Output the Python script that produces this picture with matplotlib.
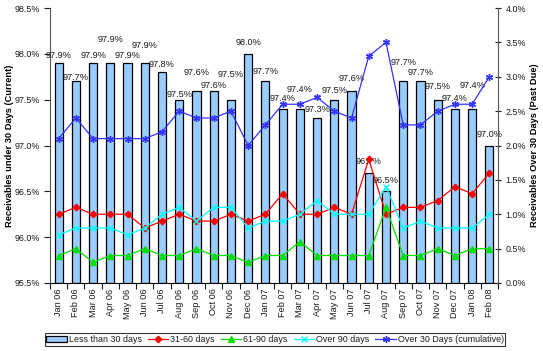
import matplotlib.pyplot as plt
from matplotlib.patches import Patch
from matplotlib.lines import Line2D

months = ["Jan 06", "Feb 06", "Mar 06", "Apr 06", "May 06", "Jun 06", "Jul 06", "Aug 06",
          "Sep 06", "Oct 06", "Nov 06", "Dec 06", "Jan 07", "Feb 07", "Mar 07", "Apr 07",
          "May 07", "Jun 07", "Jul 07", "Aug 07", "Sep 07", "Oct 07", "Nov 07", "Dec 07",
          "Jan 08", "Feb 08"]

# % current (left axis)
under_30 = [97.9, 97.7, 97.9, 97.9, 97.9, 97.9, 97.8, 97.5, 97.6, 97.6, 97.5, 98.0, 97.7,
            97.4, 97.4, 97.3, 97.5, 97.6, 96.7, 96.5, 97.7, 97.7, 97.5, 97.4, 97.4, 97.0]

# % past due (right axis)
d31_60 = [1.0, 1.1, 1.0, 1.0, 1.0, 0.8, 0.9, 1.0, 0.9, 0.9, 1.0, 0.9, 1.0,
          1.3, 1.0, 1.0, 1.1, 1.0, 1.8, 1.0, 1.1, 1.1, 1.2, 1.4, 1.3, 1.6]
d61_90 = [0.4, 0.5, 0.3, 0.4, 0.4, 0.5, 0.4, 0.4, 0.5, 0.4, 0.4, 0.3, 0.4,
          0.4, 0.6, 0.4, 0.4, 0.4, 0.4, 1.1, 0.4, 0.4, 0.5, 0.4, 0.5, 0.5]
over_90 = [0.7, 0.8, 0.8, 0.8, 0.7, 0.8, 1.0, 1.1, 0.9, 1.1, 1.1, 0.8, 0.9,
           0.9, 1.0, 1.2, 1.0, 1.0, 1.0, 1.4, 0.8, 0.9, 0.8, 0.8, 0.8, 1.0]
over_30 = [2.1, 2.4, 2.1, 2.1, 2.1, 2.1, 2.2, 2.5, 2.4, 2.4, 2.5, 2.0, 2.3,
           2.6, 2.6, 2.7, 2.5, 2.4, 3.3, 3.5, 2.3, 2.3, 2.5, 2.6, 2.6, 3.0]

# excel staggers the bar labels, offset above bar top in pixels
label_lift = [8, 4, 8, 24, 8, 18, 8, 5, 18, 5, 25, 11, 10,
              10, 19, 8, 9, 12, 12, 11, 19, 9, 13, 10, 23, 11]

fs = 6.4
plt.rcParams.update({
    "font.family": ["Liberation Sans", "DejaVu Sans"],
    "font.size": fs,
    "text.color": "#1a1a1a",
    "xtick.color": "#1a1a1a",
    "ytick.color": "#1a1a1a",
})

fig = plt.figure(figsize=(5.43, 3.51), dpi=100)
ax = fig.add_axes([50 / 543, 1 - 283 / 351, 448 / 543, 275 / 351])
ax2 = ax.twinx()

x = list(range(len(months)))
bar_color = "#99CCFF"
ax.bar(x, [v - 95.5 for v in under_30], bottom=95.5, width=0.47,
       color=bar_color, edgecolor="black", linewidth=0.9, zorder=2)

for i, v in enumerate(under_30):
    ax.annotate(f"{v:.1f}%", xy=(i, v), xytext=(0, label_lift[i] * 0.72),
                textcoords="offset points", ha="center", va="center",
                fontsize=fs + 0.2, zorder=3)

ax.set_xlim(-0.5, len(months) - 0.5)
ax.set_ylim(95.5, 98.5)
ax.set_yticks([95.5, 96.0, 96.5, 97.0, 97.5, 98.0, 98.5])
ax.set_yticklabels([f"{t:.1f}%" for t in ax.get_yticks()])
ax.set_xticks(x)
ax.set_xticklabels(months, rotation=90, fontsize=fs + 0.2)
ax.set_xticks([i - 0.5 for i in range(len(months) + 1)], minor=True)
ax.tick_params(axis="x", which="major", length=0, pad=4)
ax.tick_params(axis="x", which="minor", length=4, direction="out", width=0.8)
ax.tick_params(axis="y", length=4, width=0.8, direction="out", pad=3)
ax.set_ylabel("Receivables under 30 Days (Current)", fontsize=6.7, fontweight="bold")
ax.yaxis.set_label_coords(-36 / 448, 0.5)

ax2.set_ylim(0, 4.0)
ax2.set_yticks([0, 0.5, 1.0, 1.5, 2.0, 2.5, 3.0, 3.5, 4.0])
ax2.set_yticklabels([f"{t:.1f}%" for t in ax2.get_yticks()])
ax2.tick_params(axis="y", length=5, width=0.8, direction="inout", pad=3, labelsize=fs)
ax2.set_ylabel("Receivables Over 30 Days (Past Due)", fontsize=6.7, fontweight="bold",
               rotation=90)
ax2.yaxis.set_label_coords(1 + 32 / 448, 0.5)

for a in (ax, ax2):
    a.spines["top"].set_visible(False)
ax.spines["right"].set_visible(False)
ax2.spines["left"].set_visible(False)
ax2.spines["bottom"].set_visible(False)
ax.spines["left"].set_color("#555555")
ax2.spines["right"].set_color("#555555")

lw = 0.9
ax2.plot(x, d31_60, color="#FF0000", lw=lw, marker="D", ms=3.3, zorder=4)
ax2.plot(x, d61_90, color="#00E000", lw=lw, marker="^", ms=4, zorder=4)
ax2.plot(x, over_90, color="#00FFFF", lw=lw, marker="x", ms=4, mew=1, zorder=4)
ax2.plot(x, over_30, color="#3333FF", lw=lw, marker=(6, 2, 0), ms=5, mew=1, zorder=4)

handles = [
    Patch(facecolor=bar_color, edgecolor="black", linewidth=0.9),
    Line2D([], [], color="#FF0000", lw=lw, marker="D", ms=3.3),
    Line2D([], [], color="#00E000", lw=lw, marker="^", ms=4),
    Line2D([], [], color="#00FFFF", lw=lw, marker="x", ms=4, mew=1),
    Line2D([], [], color="#3333FF", lw=lw, marker=(6, 2, 0), ms=5, mew=1),
]
labels = ["Less than 30 days", "31-60 days", "61-90 days", "Over 90 days",
          "Over 30 Days (cumulative)"]
leg = fig.legend(handles, labels, loc="center", bbox_to_anchor=(275 / 543, 1 - 339.5 / 351),
                 ncol=5, fontsize=fs, frameon=True, fancybox=False, handlelength=2.3,
                 handleheight=0.7, handletextpad=0.2, columnspacing=0.7, borderpad=0.2,
                 borderaxespad=0)
leg.get_frame().set_edgecolor("black")
leg.get_frame().set_linewidth(0.8)

fig.savefig("out.png", dpi=100)
